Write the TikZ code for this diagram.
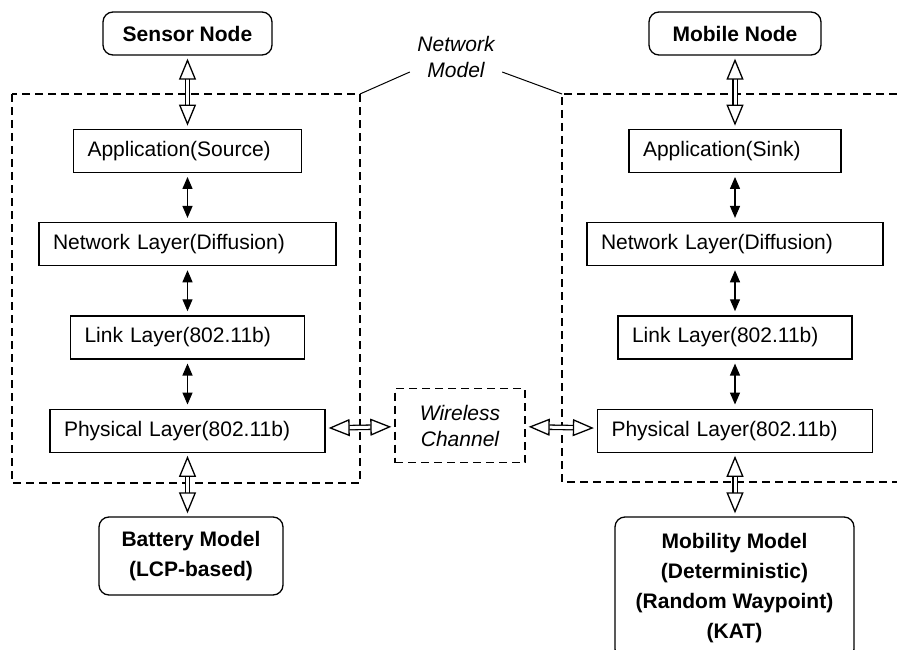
\documentclass[tikz,border=0pt]{standalone}
\usepackage{fontspec}
\setmainfont{Liberation Sans}
\usetikzlibrary{arrows.meta,positioning,calc}

\begin{document}
\begin{tikzpicture}[x=1pt,y=-1pt,
  node distance=49pt,
  font=\fontsize{21}{26}\selectfont,
  layerbox/.style={draw,line width=1.3pt,inner xsep=14pt,inner ysep=0pt,minimum height=43pt,align=left},
  endbox/.style={draw,rounded corners=10pt,line width=1.3pt,align=center,inner sep=0pt,font=\fontsize{21}{30}\selectfont\bfseries},
  zone/.style={dash pattern=on 8pt off 5pt,line width=1.3pt},
  tagtext/.style={align=center,inner sep=0pt,font=\fontsize{21}{26}\selectfont\itshape},
  stackarr/.style={{Triangle[length=12pt,width=10pt]}-{Triangle[length=12pt,width=10pt]},line width=1.3pt,shorten <=4pt,shorten >=4pt},
  hollow/.style={double,double distance=3pt,line width=1.3pt,{Triangle[open,length=21pt,width=17pt]}-{Triangle[open,length=21pt,width=17pt]},shorten <=3pt,shorten >=3pt}]
  \clip (0,0) rectangle (897,650);
  \draw[zone] (12,94) rectangle (360,483);
  \draw[zone] (897,94) -- (562,94) -- (562,482) -- (897,482);
  \coordinate (lcorner) at (360,94);
  \coordinate (rcorner) at (562,94);
  \node[tagtext,minimum width=92pt,minimum height=50pt] (netmodel) at (456,57) {Network\\Model};
  \draw[line width=1pt] (lcorner) -- (netmodel.198); \draw[line width=1pt] (netmodel.342) -- (rcorner);

  \node[endbox,minimum width=169pt,minimum height=43pt] (sensor) at (187.5,33.5) {Sensor Node};
  \node[layerbox,text width=200pt,below=73pt of sensor] (appS) {Application(Source)};
  \node[layerbox,text width=269pt,below=of appS] (netL) {Network Layer(Diffusion)};
  \node[layerbox,text width=206pt,below=of netL] (linkL) {Link Layer(802.11b)};
  \node[layerbox,text width=247pt,below=of linkL] (physL) {Physical Layer(802.11b)};
  \node[endbox,minimum width=184pt,minimum height=78pt] (battery) at (191,556) {Battery Model\\(LCP-based)};

  \node[endbox,minimum width=172pt,minimum height=43pt] (mobile) at (735,33.5) {Mobile Node};
  \node[layerbox,text width=184pt,below=73pt of mobile] (appR) {Application(Sink)};
  \node[layerbox,text width=268pt,below=of appR] (netR) {Network Layer(Diffusion)};
  \node[layerbox,text width=206pt,below=of netR] (linkR) {Link Layer(802.11b)};
  \node[layerbox,text width=247pt,below=of linkR] (physR) {Physical Layer(802.11b)};
  \node[endbox,minimum width=239pt,minimum height=142pt] (mobility) at (734.5,588) {Mobility Model\\(Deterministic)\\(Random Waypoint)\\(KAT)};

  \node[draw,zone,tagtext,minimum width=130pt,minimum height=74pt] (chan) at (460,425.5) {Wireless\\Channel};

  \draw[stackarr] (appS) -- (netL); \draw[stackarr] (netL) -- (linkL); \draw[stackarr] (linkL) -- (physL);
  \draw[stackarr] (appR) -- (netR); \draw[stackarr] (netR) -- (linkR); \draw[stackarr] (linkR) -- (physR);
  \draw[hollow] (sensor) -- (appS); \draw[hollow] (mobile) -- (appR);
  \draw[hollow] (physL) -- (physL |- battery.north); \draw[hollow] (physR) -- (physR |- mobility.north);
  \draw[hollow] (physL) -- (chan); \draw[hollow] (chan) -- (physR);
\end{tikzpicture}
\end{document}
